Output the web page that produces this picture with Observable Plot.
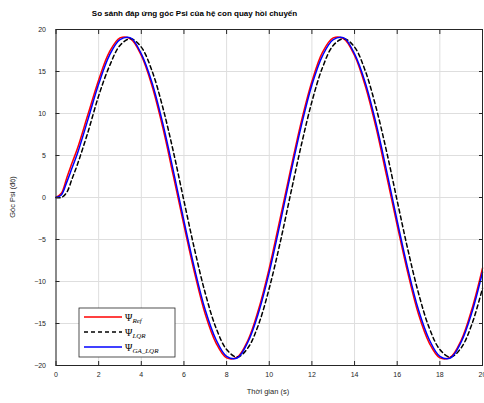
<!DOCTYPE html>
<html><head><meta charset="utf-8">
<script src="https://cdn.jsdelivr.net/npm/d3@7"></script>
<script src="https://cdn.jsdelivr.net/npm/@observablehq/plot@0.6"></script>
<style>body{margin:0;background:#fff} svg{display:block}</style>
</head><body><div id="chart"></div>
<script>
const time = [0,0.25,0.5,0.75,1,1.5,2,2.5,3,3.5,4,4.5,5,5.5,6,6.5,7,7.5,8,8.5,9,9.5,10,10.5,11,11.5,12,12.5,13,13.5,14,14.5,15,15.5,16,16.5,17,17.5,18,18.5,19,19.5,20];
const psiRef = [0,0.5,2.3,4.1,5.8,9.9,14.0,17.3,19.0,18.9,16.9,13.3,8.4,2.6,-3.3,-9.0,-13.9,-17.3,-19.1,-19.0,-17.0,-13.3,-8.4,-2.6,3.3,9.0,13.8,17.3,19.0,18.9,16.9,13.3,8.4,2.6,-3.3,-9.0,-13.9,-17.3,-19.1,-19.0,-17.0,-13.3,-8.4];
const psiLQR = [0,0,0.6,2.2,3.9,7.8,12.1,15.6,18.1,18.9,17.9,15.1,10.8,5.5,-0.4,-6.2,-11.4,-15.5,-18.1,-19.0,-17.9,-15.1,-10.8,-5.5,0.4,6.2,11.4,15.5,18.1,18.9,17.9,15.1,10.8,5.5,-0.4,-6.2,-11.4,-15.5,-18.1,-19.0,-17.9,-15.1,-10.8];
const psiGA = [0,0.3,1.8,3.5,5.2,9.3,13.5,16.9,18.8,19.0,17.1,13.7,8.9,3.2,-2.8,-8.5,-13.4,-16.9,-18.9,-19.1,-17.2,-13.7,-8.9,-3.2,2.8,8.5,13.4,16.9,18.8,19.0,17.1,13.7,8.9,3.2,-2.8,-8.5,-13.4,-16.9,-18.9,-19.1,-17.2,-13.7,-8.9];
const xTicks = [0,2,4,6,8,10,12,14,16,18,20];
const yTicks = [-20,-15,-10,-5,0,5,10,15,20];
const titleText = "So sánh đáp ứng góc Psi của hệ con quay hồi chuyển";
const xLabel = "Thời gian (s)";
const yLabel = "Góc Psi (độ)";
const legendSubs = ["Ref","LQR","GA_LQR"];
const seriesColors = ["#ff0000","#000000","#0000ff"];
const seriesDash = [null,"4,3",null];

const data = time.map((t,i)=>({t, ref: psiRef[i], lqr: psiLQR[i], ga: psiGA[i]}));
const ink = "#262626";
const plot = Plot.plot({
  width: 484, height: 403,
  marginLeft: 55.5, marginRight: 2, marginTop: 29, marginBottom: 38,
  style: {fontFamily: "'Liberation Sans', Arial, sans-serif", fontSize: "7px", color: ink, background: "#fff"},
  x: {domain: [0,20]},
  y: {domain: [-20,20]},
  marks: [
    Plot.gridX(xTicks, {stroke: "#dedede", strokeOpacity: 1}),
    Plot.gridY(yTicks, {stroke: "#dedede", strokeOpacity: 1}),
    Plot.line(data, {x: "t", y: "ref", stroke: seriesColors[0], strokeWidth: 1.5, curve: "catmull-rom"}),
    Plot.line(data, {x: "t", y: "lqr", stroke: seriesColors[1], strokeWidth: 1.5, strokeDasharray: seriesDash[1], curve: "catmull-rom"}),
    Plot.line(data, {x: "t", y: "ga", stroke: seriesColors[2], strokeWidth: 1.5, curve: "catmull-rom"}),
    Plot.frame({stroke: ink, strokeWidth: 1}),
    Plot.axisX(xTicks, {anchor: "bottom", tickSize: -4, tickPadding: 11, label: null, stroke: ink, fill: ink}),
    Plot.axisX(xTicks, {anchor: "top", tickSize: -4, tickFormat: () => "", label: null, stroke: ink}),
    Plot.axisY(yTicks, {anchor: "left", tickSize: -4, tickPadding: 14, label: null, stroke: ink, fill: ink}),
    Plot.axisY(yTicks, {anchor: "right", tickSize: -4, tickFormat: () => "", label: null, stroke: ink})
  ]
});
document.getElementById("chart").appendChild(plot);

const svg = d3.select(plot);
svg.append("text").attr("x", 194.5).attr("y", 16).attr("text-anchor", "middle")
  .attr("font-family", "'Liberation Sans', Arial, sans-serif").attr("font-size", 8).attr("font-weight", "bold")
  .attr("fill", "#000").text(titleText);
svg.append("text").attr("x", 268).attr("y", 394).attr("text-anchor", "middle")
  .attr("font-family", "'Liberation Sans', Arial, sans-serif").attr("font-size", 7.5)
  .attr("fill", ink).text(xLabel);
svg.append("text").attr("transform", "translate(15,197) rotate(-90)").attr("text-anchor", "middle")
  .attr("font-family", "'Liberation Sans', Arial, sans-serif").attr("font-size", 7.5)
  .attr("fill", ink).text(yLabel);

const lg = svg.append("g");
lg.append("rect").attr("x", 79).attr("y", 308).attr("width", 96).attr("height", 49)
  .attr("fill", "#fff").attr("stroke", ink).attr("stroke-width", 0.8);
legendSubs.forEach((s, i) => {
  const y = 317 + i * 15;
  const ln = lg.append("line").attr("x1", 84).attr("x2", 122).attr("y1", y).attr("y2", y)
    .attr("stroke", seriesColors[i]).attr("stroke-width", 1.5);
  if (seriesDash[i]) ln.attr("stroke-dasharray", seriesDash[i]);
  const tx = lg.append("text").attr("x", 125).attr("y", y + 3.5).attr("text-anchor", "start")
    .attr("font-family", "'Liberation Serif', 'DejaVu Serif', serif").attr("font-size", 10).attr("fill", "#000");
  tx.append("tspan").text("Ψ");
  tx.append("tspan").attr("font-size", 7).attr("font-style", "italic").attr("dy", 2.5).text(s);
});
</script>
</body></html>
